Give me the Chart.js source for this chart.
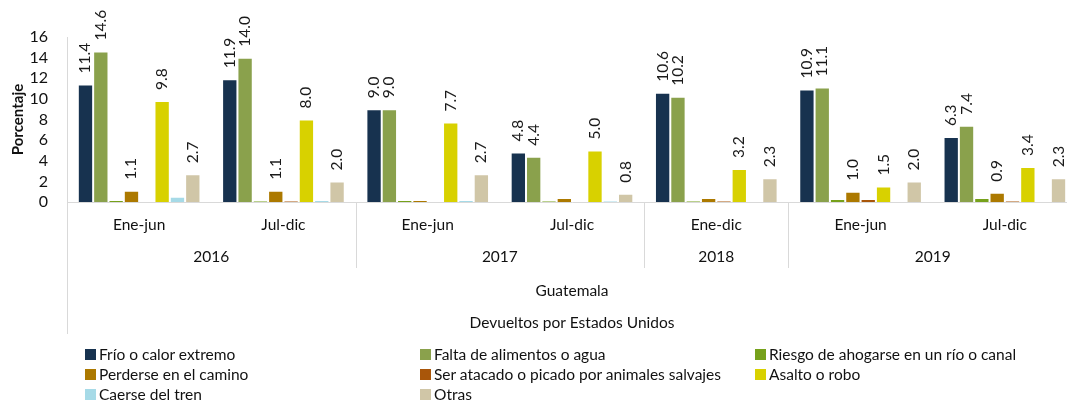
<!DOCTYPE html>
<html>
<head>
<meta charset="utf-8">
<script src="https://cdn.jsdelivr.net/npm/chart.js@4.4.1/dist/chart.umd.min.js"></script>
<style>
  html, body { margin: 0; padding: 0; background: #fff; overflow: hidden; width: 1067px; height: 403px; }
  #wrap { position: relative; width: 1080px; height: 403px; }
  #legend { position: absolute; left: 0; top: 0; width: 1067px; height: 403px; pointer-events: none;
            font-family: Lato, "Liberation Sans", sans-serif; font-size: 15.5px; color: #111; }
  .item { position: absolute; display: flex; align-items: center; white-space: nowrap; height: 20px; }
  .sw { width: 11px; height: 11px; margin-right: 3px; display: inline-block; }
</style>
</head>
<body>
<div id="wrap">
  <canvas id="c" width="1080" height="403"></canvas>
  <div id="legend"></div>
</div>
<script>
// ---- Data ----
const periods = ['Ene-jun', 'Jul-dic', 'Ene-jun', 'Jul-dic', 'Ene-dic', 'Ene-jun', 'Jul-dic'];
const years = ['2016', '2016', '2017', '2017', '2018', '2019', '2019'];
const country = 'Guatemala';
const source = 'Devueltos por Estados Unidos';
const yTicks = [0, 2, 4, 6, 8, 10, 12, 14, 16];

const seriesNames = [
  'Frío o calor extremo',
  'Falta de alimentos o agua',
  'Riesgo de ahogarse en un río o canal',
  'Perderse en el camino',
  'Ser atacado o picado por animales salvajes',
  'Asalto o robo',
  'Caerse del tren',
  'Otras'
];
const frio     = [11.4, 11.9, 9.0, 4.8, 10.6, 10.9, 6.3];
const falta    = [14.6, 14.0, 9.0, 4.4, 10.2, 11.1, 7.4];
const riesgo   = [0.2, 0.1, 0.2, 0.1, 0.1, 0.3, 0.4];
const perderse = [1.1, 1.1, 0.2, 0.4, 0.4, 1.0, 0.9];
const atacado  = [0, 0.1, 0, 0, 0.1, 0.3, 0.1];
const asalto   = [9.8, 8.0, 7.7, 5.0, 3.2, 1.5, 3.4];
const caerse   = [0.5, 0.2, 0.2, 0.1, 0, 0, 0];
const otras    = [2.7, 2.0, 2.7, 0.8, 2.3, 2.0, 2.3];

const colors = ['#17324f', '#8aa14c', '#76a11b', '#ac7900', '#a9560a', '#d8d100', '#a6dae7', '#d0c6a7'];
const allSeries = [frio, falta, riesgo, perderse, atacado, asalto, caerse, otras];

const FONT = 'Lato, "Liberation Sans", sans-serif';
const LABEL_MIN = 0.8;

// ---- Plugins ----
const valueLabels = {
  id: 'valueLabels',
  afterDatasetsDraw(chart) {
    const ctx = chart.ctx;
    ctx.save();
    ctx.fillStyle = '#1a1a1a';
    ctx.font = '15.5px ' + FONT;
    ctx.textAlign = 'left';
    ctx.textBaseline = 'middle';
    chart.data.datasets.forEach((ds, di) => {
      const meta = chart.getDatasetMeta(di);
      meta.data.forEach((el, i) => {
        const v = ds.data[i];
        if (v >= LABEL_MIN) {
          ctx.save();
          ctx.translate(el.x, el.y - 11);
          ctx.rotate(-Math.PI / 2);
          ctx.fillText(v.toFixed(1), 0, 0);
          ctx.restore();
        }
      });
    });
    ctx.restore();
  }
};

const groupAxis = {
  id: 'groupAxis',
  afterDraw(chart) {
    const ctx = chart.ctx;
    const x = chart.scales.x;
    const area = chart.chartArea;
    ctx.save();
    ctx.strokeStyle = '#d9d9d9';
    ctx.lineWidth = 1;
    ctx.beginPath();
    ctx.moveTo(Math.round(area.left) + 0.5, area.bottom);
    ctx.lineTo(Math.round(area.left) + 0.5, 334);
    ctx.stroke();
    for (let i = 0; i < years.length - 1; i++) {
      if (years[i] !== years[i + 1]) {
        const px = (x.getPixelForValue(i) + x.getPixelForValue(i + 1)) / 2;
        ctx.beginPath();
        ctx.moveTo(Math.round(px) + 0.5, area.bottom);
        ctx.lineTo(Math.round(px) + 0.5, 268);
        ctx.stroke();
      }
    }
    ctx.fillStyle = '#111';
    ctx.font = '15.5px ' + FONT;
    ctx.textAlign = 'center';
    ctx.textBaseline = 'middle';
    let start = 0;
    for (let i = 1; i <= years.length; i++) {
      if (i === years.length || years[i] !== years[start]) {
        const cx = (x.getPixelForValue(start) + x.getPixelForValue(i - 1)) / 2;
        ctx.fillText(years[start], cx, 257);
        start = i;
      }
    }
    const mid = (area.left + area.right) / 2;
    ctx.fillText(country, mid, 291);
    ctx.fillText(source, mid, 323);
    ctx.restore();
  }
};

// ---- Chart ----
const datasets = allSeries.map((d, i) => ({
  label: seriesNames[i],
  data: d,
  backgroundColor: colors[i],
  borderColor: 'rgba(255,255,255,0.35)',
  borderWidth: 1,
  categoryPercentage: 0.85,
  barPercentage: 1.0
}));

new Chart(document.getElementById('c'), {
  type: 'bar',
  data: { labels: periods, datasets },
  plugins: [valueLabels, groupAxis],
  options: {
    responsive: false,
    animation: false,
    layout: { padding: { top: 37, right: 3, left: 0, bottom: 0 } },
    plugins: { legend: { display: false }, tooltip: { enabled: false } },
    scales: {
      x: {
        grid: { display: false, drawTicks: false },
        border: { display: true, color: '#d9d9d9', width: 1 },
        ticks: { color: '#111', font: { family: FONT, size: 15.5 }, padding: 14, maxRotation: 0, autoSkip: false },
        afterFit(s) { s.height = 201; }
      },
      y: {
        min: 0, max: 16,
        afterBuildTicks(s) { s.ticks = yTicks.map(v => ({ value: v })); },
        grid: { display: false, drawTicks: false },
        border: { display: true, color: '#d9d9d9', width: 1 },
        ticks: { color: '#111', font: { family: FONT, size: 16 }, padding: 19, autoSkip: false, stepSize: 2 },
        title: { display: true, text: 'Porcentaje', color: '#111', font: { family: FONT, size: 15, weight: 'bold' }, padding: { top: 9, bottom: 0 } },
        afterFit(s) { s.width = 67; }
      }
    }
  }
});

// ---- Legend (HTML) ----
const legend = document.getElementById('legend');
const colX = [85, 420, 755];
const rowY = [344, 364, 384];
seriesNames.forEach((name, i) => {
  const el = document.createElement('div');
  el.className = 'item';
  el.style.left = colX[i % 3] + 'px';
  el.style.top = rowY[Math.floor(i / 3)] + 'px';
  const sw = document.createElement('span');
  sw.className = 'sw';
  sw.style.background = colors[i];
  const t = document.createElement('span');
  t.textContent = name;
  el.appendChild(sw);
  el.appendChild(t);
  legend.appendChild(el);
});
</script>
</body>
</html>
